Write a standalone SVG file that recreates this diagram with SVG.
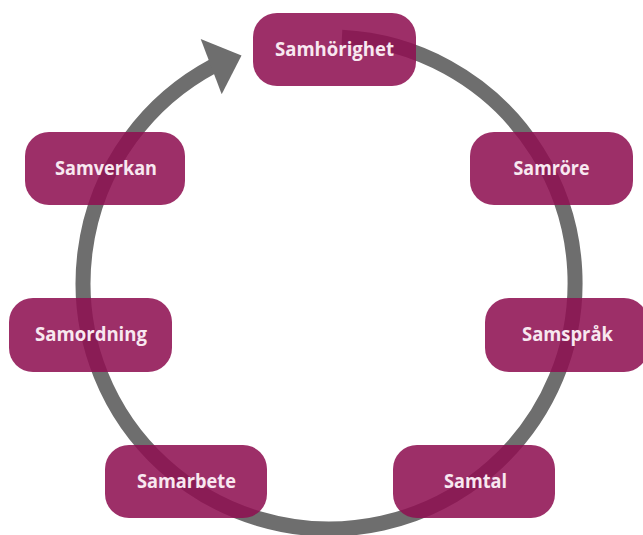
<svg xmlns="http://www.w3.org/2000/svg" width="643" height="535" viewBox="0 0 643 535">
  <style>
    .box { fill: #8E1051; opacity: 0.87; }
    .lbl { font-family: "Open Sans", "Liberation Sans", sans-serif; font-weight: 700; font-size: 19px; fill: #F8E8F0; text-anchor: middle; }
    .ring { fill: none; stroke: #6E6E6E; stroke-width: 15; }
  </style>
  <rect width="643" height="535" fill="#FFFFFF"/>
  <g id="connectors">
    <path class="ring" d="M 341.9 37.3 A 246 246 0 1 1 213.5 65.8"/>
    <polygon points="200.7,39 241.5,55.5 221.7,94.3" fill="#6E6E6E"/>
  </g>
  <g id="node-samhorighet">
    <rect class="box" x="253" y="13" width="163" height="73" rx="24"/>
    <text class="lbl" x="334.5" y="56" textLength="119" lengthAdjust="spacingAndGlyphs">Samhörighet</text>
  </g>
  <g id="node-samrore">
    <rect class="box" x="470" y="132" width="163" height="73" rx="24"/>
    <text class="lbl" x="551.5" y="175" textLength="76" lengthAdjust="spacingAndGlyphs">Samröre</text>
  </g>
  <g id="node-samsprak">
    <rect class="box" x="485" y="298" width="163" height="74" rx="24"/>
    <text class="lbl" x="567.5" y="341" textLength="91" lengthAdjust="spacingAndGlyphs">Samspråk</text>
  </g>
  <g id="node-samtal">
    <rect class="box" x="393" y="445" width="162" height="73" rx="24"/>
    <text class="lbl" x="475.5" y="488" textLength="63" lengthAdjust="spacingAndGlyphs">Samtal</text>
  </g>
  <g id="node-samarbete">
    <rect class="box" x="105" y="445" width="162" height="73" rx="24"/>
    <text class="lbl" x="186.5" y="488" textLength="99" lengthAdjust="spacingAndGlyphs">Samarbete</text>
  </g>
  <g id="node-samordning">
    <rect class="box" x="9" y="298" width="163" height="74" rx="24"/>
    <text class="lbl" x="91" y="341" textLength="112" lengthAdjust="spacingAndGlyphs">Samordning</text>
  </g>
  <g id="node-samverkan">
    <rect class="box" x="25" y="132" width="160" height="73" rx="24"/>
    <text class="lbl" x="106" y="175" textLength="102" lengthAdjust="spacingAndGlyphs">Samverkan</text>
  </g>
</svg>
